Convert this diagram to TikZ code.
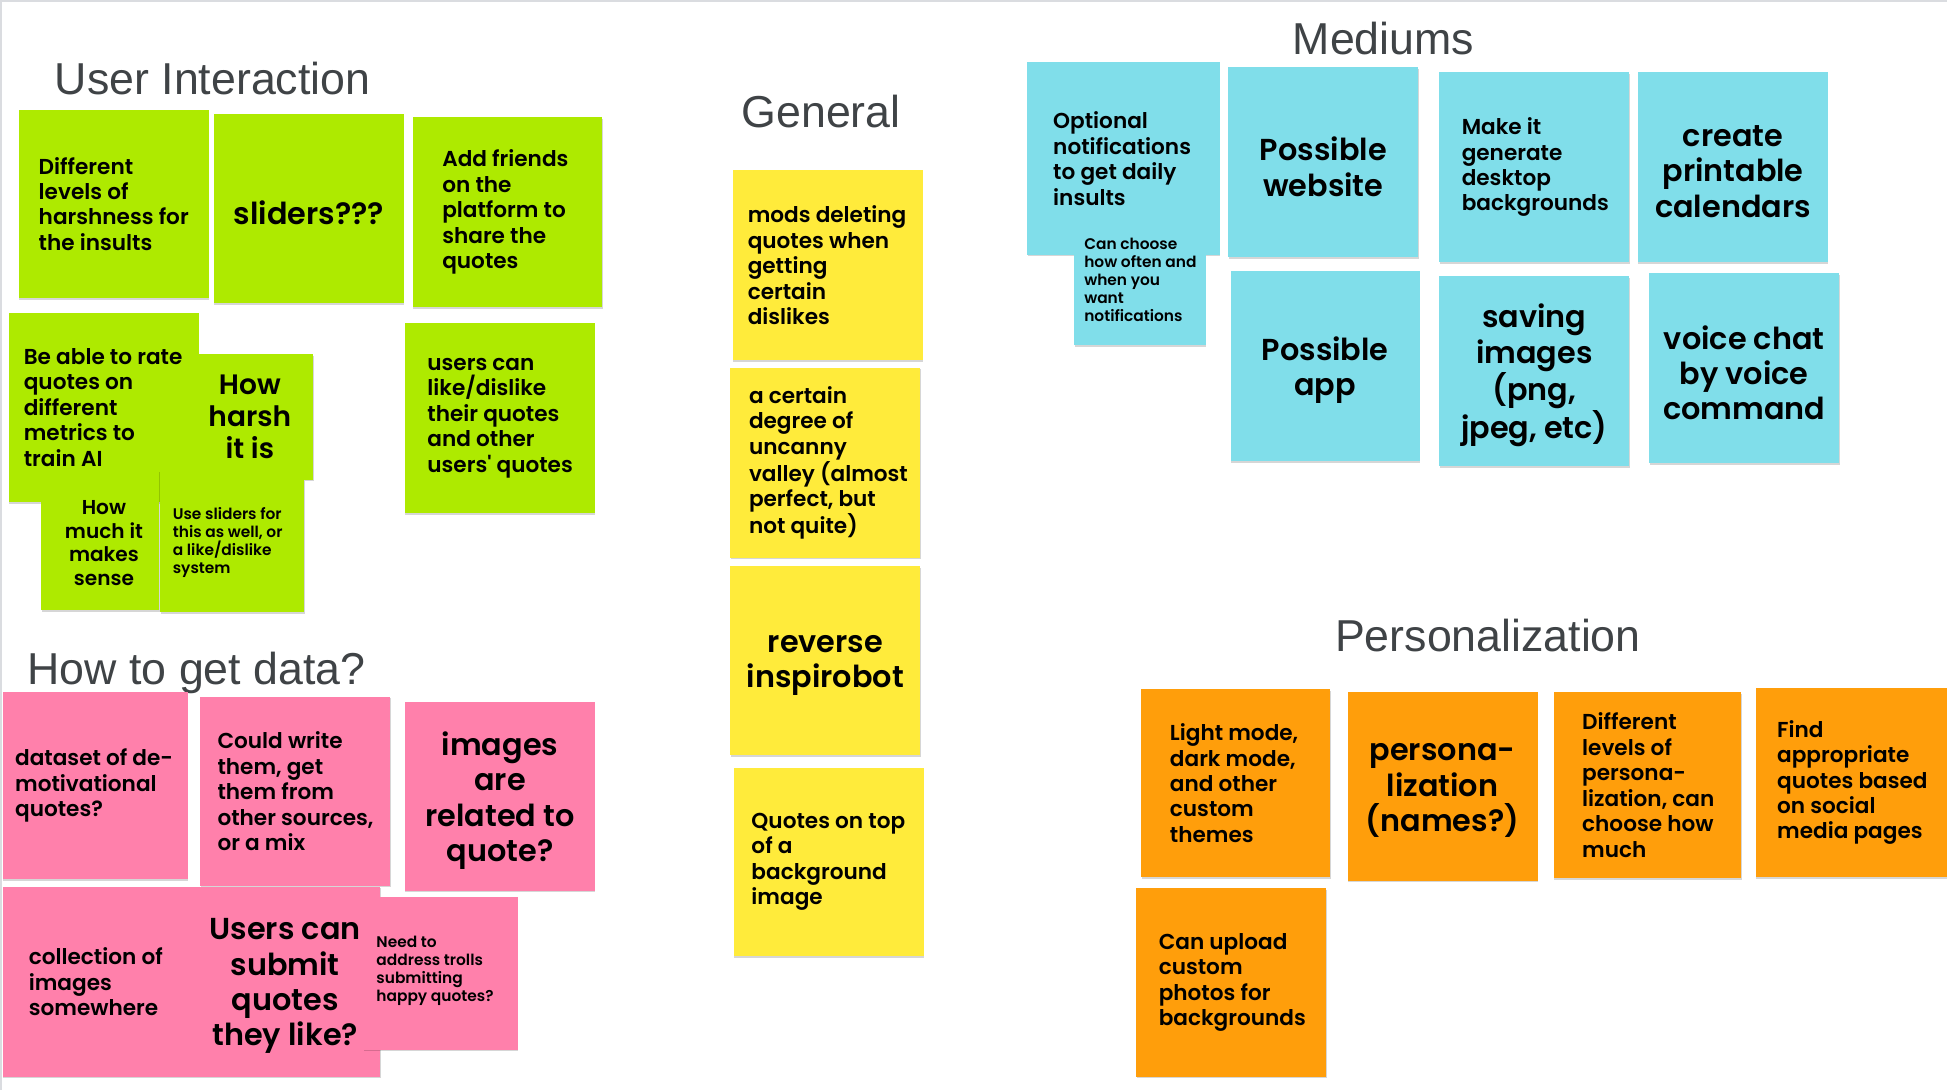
\documentclass[tikz,border=0pt]{standalone}
\usepackage{fontspec}
\setmainfont{Liberation Sans}
\newfontfamily\notefont{Poppins}[BoldFont={Poppins SemiBold}]
\newfontfamily\headfont{Liberation Sans}
\usetikzlibrary{shadows}

% sticky-note colours
\definecolor{limeN}{HTML}{AEEA00}
\definecolor{pinkN}{HTML}{FF80AB}
\definecolor{yellowN}{HTML}{FFEB3B}
\definecolor{cyanN}{HTML}{80DEEA}
\definecolor{orangeN}{HTML}{FF9E0B}
\definecolor{headC}{HTML}{3F4346}
\definecolor{edgeC}{HTML}{DADCE0}

\tikzset{
  note/.style={rectangle, inner sep=0pt, anchor=north west, draw=none,
    general shadow={fill=black, opacity=0.16, shadow yshift=-1.3pt, shadow xshift=0.3pt}},
  box/.style 2 args={minimum width=#1pt, minimum height=#2pt},
  body/.style={inner sep=0pt, anchor=west, align=left,
    font=\notefont\bfseries\fontsize{17.4}{20.5}\selectfont},
  big/.style={inner sep=0pt, anchor=center, align=center, yshift=-3.5pt,
    font=\notefont\bfseries\fontsize{24.4}{28.5}\selectfont},
  mid/.style={inner sep=0pt, anchor=center, align=center,
    font=\notefont\bfseries\fontsize{22.6}{26}\selectfont},
  med/.style={inner sep=0pt, anchor=center, align=center,
    font=\notefont\bfseries\fontsize{16.2}{19}\selectfont},
  small/.style={inner sep=0pt, anchor=west, align=left,
    font=\notefont\bfseries\fontsize{12.4}{14.6}\selectfont},
  heading/.style={inner sep=0pt, anchor=base west, text=headC,
    font=\headfont\fontsize{36}{40}\selectfont},
}

\begin{document}
\begin{tikzpicture}[x=1pt, y=-1pt]
\useasboundingbox (0,0) rectangle (1568,878);
\fill[white] (0,0) rectangle (1568,878);
\fill[edgeC] (0,0) rectangle (1568,1.8);
\fill[edgeC] (0,0) rectangle (1.8,878);

% ---------- headings ----------
\node[heading] (hUser) at (44,76) {User Interaction};
\node[heading] (hGen) at (597,103) {General};
\node[heading] (hMed) at (1041,44) {Mediums};
\node[heading] (hData) at (22,551) {How to get data?};
\node[heading] (hPers) at (1075,525) {Personalization};

% ---------- User Interaction ----------
\node[note, fill=limeN, box={153}{152}] (g1) at (15,88) {};
\node[body] (g1t) at ([xshift=16pt]g1.west) {Different\\levels of\\harshness for\\the insults};
\node[note, fill=limeN, box={153}{152}] (g2) at (172,92) {};
\node[big] (g2t) at (g2.center) {sliders???};
\node[note, fill=limeN, box={153}{153}] (g3) at (332,94) {};
\node[body] (g3t) at ([xshift=24pt]g3.west) {Add friends\\on the\\platform to\\share the\\quotes};
\node[note, fill=limeN, box={153}{152}] (g4) at (7,252) {};
\node[body] (g4t) at ([xshift=12pt]g4.west) {Be able to rate\\quotes on\\different\\metrics to\\train AI};
\node[note, fill=limeN, box={102}{101}] (g5) at (150,285) {};
\node[mid] (g5t) at (g5.center) {How\\harsh\\it is};
\node[note, fill=limeN, box={95}{112}] (g6) at (33,379) {};
\node[med] (g6t) at ([xshift=3pt,yshift=-2pt]g6.center) {How\\much it\\makes\\sense};
\node[note, fill=limeN, box={116}{107}] (g7) at (129,386) {};
\node[small] (g7t) at ([xshift=10pt,yshift=3pt]g7.west) {Use sliders for\\this as well, or\\a like/dislike\\system};
\node[note, fill=limeN, box={153}{153}] (g8) at (326,260) {};
\node[body] (g8t) at ([xshift=18pt]g8.west) {users can\\like/dislike\\their quotes\\and other\\users' quotes};

% ---------- How to get data? ----------
\node[note, fill=pinkN, box={149}{151}] (p1) at (2,557) {};
\node[body] (p1t) at ([xshift=10pt]p1.west) {dataset of de-\\motivational\\quotes?};
\node[note, fill=pinkN, box={153}{152}] (p2) at (161,561) {};
\node[body] (p2t) at ([xshift=14pt]p2.west) {Could write\\them, get\\them from\\other sources,\\or a mix};
\node[note, fill=pinkN, box={153}{152}] (p3) at (326,565) {};
\node[big] (p3t) at (p3.center) {images\\are\\related to\\quote?};
\node[note, fill=pinkN, box={151}{153}] (p4) at (2,714) {};
\node[body] (p4t) at ([xshift=21pt]p4.west) {collection of\\images\\somewhere};
\node[note, fill=pinkN, box={153}{153}] (p5) at (153,714) {};
\node[big] (p5t) at (p5.center) {Users can\\submit\\quotes\\they like?};
\node[note, fill=pinkN, box={124}{123}] (p6) at (293,722) {};
\node[small] (p6t) at ([xshift=10pt,yshift=2pt]p6.west) {Need to\\address trolls\\submitting\\happy quotes?};

% ---------- General ----------
\node[note, fill=yellowN, box={153}{153}] (y1) at (590,137) {};
\node[body] (y1t) at ([xshift=12pt]y1.west) {mods deleting\\quotes when\\getting\\certain\\dislikes};
\node[note, fill=yellowN, box={153}{153}] (y2) at (588,296) {};
\node[body] (y2t) at ([xshift=15pt]y2.west) {a certain\\degree of\\uncanny\\valley (almost\\perfect, but\\not quite)};
\node[note, fill=yellowN, box={153}{152}] (y3) at (588,456) {};
\node[big] (y3t) at (y3.center) {reverse\\inspirobot};
\node[note, fill=yellowN, box={153}{152}] (y4) at (591,618) {};
\node[body] (y4t) at ([xshift=14pt]y4.west) {Quotes on top\\of a\\background\\image};

% ---------- Mediums ----------
\node[note, fill=cyanN, box={155}{155}] (c1) at (827,50) {};
\node[body] (c1t) at ([xshift=21pt]c1.west) {Optional\\notifications\\to get daily\\insults};
\node[note, fill=cyanN, box={106}{106}] (c2) at (865,172) {};
\node[small] (c2t) at ([xshift=8pt]c2.west) {Can choose\\how often and\\when you\\want\\notifications};
\node[note, fill=cyanN, box={153}{153}] (c3) at (989,54) {};
\node[big] (c3t) at (c3.center) {Possible\\website};
\node[note, fill=cyanN, box={153}{153}] (c4) at (1159,58) {};
\node[body] (c4t) at ([xshift=18pt]c4.west) {Make it\\generate\\desktop\\backgrounds};
\node[note, fill=cyanN, box={153}{153}] (c5) at (1319,58) {};
\node[big] (c5t) at (c5.center) {create\\printable\\calendars};
\node[note, fill=cyanN, box={152}{153}] (c6) at (991,218) {};
\node[big] (c6t) at (c6.center) {Possible\\app};
\node[note, fill=cyanN, box={153}{153}] (c7) at (1159,222) {};
\node[big] (c7t) at (c7.center) {saving\\images\\(png,\\jpeg, etc)};
\node[note, fill=cyanN, box={153}{153}] (c8) at (1328,220) {};
\node[big] (c8t) at (c8.center) {voice chat\\by voice\\command};

% ---------- Personalization ----------
\node[note, fill=orangeN, box={152}{151}] (o1) at (919,555) {};
\node[body] (o1t) at ([xshift=23pt]o1.west) {Light mode,\\dark mode,\\and other\\custom\\themes};
\node[note, fill=orangeN, box={153}{152}] (o2) at (1085,557) {};
\node[big] (o2t) at (o2.center) {persona-\\lization\\(names?)};
\node[note, fill=orangeN, box={151}{150}] (o3) at (1251,557) {};
\node[body] (o3t) at ([xshift=23pt]o3.west) {Different\\levels of\\persona-\\lization, can\\choose how\\much};
\node[note, fill=orangeN, box={154}{152}] (o4) at (1414,554) {};
\node[body] (o4t) at ([xshift=17pt]o4.west) {Find\\appropriate\\quotes based\\on social\\media pages};
\node[note, fill=orangeN, box={153}{152}] (o5) at (915,715) {};
\node[body] (o5t) at ([xshift=18pt]o5.west) {Can upload\\custom\\photos for\\backgrounds};
\end{tikzpicture}
\end{document}
